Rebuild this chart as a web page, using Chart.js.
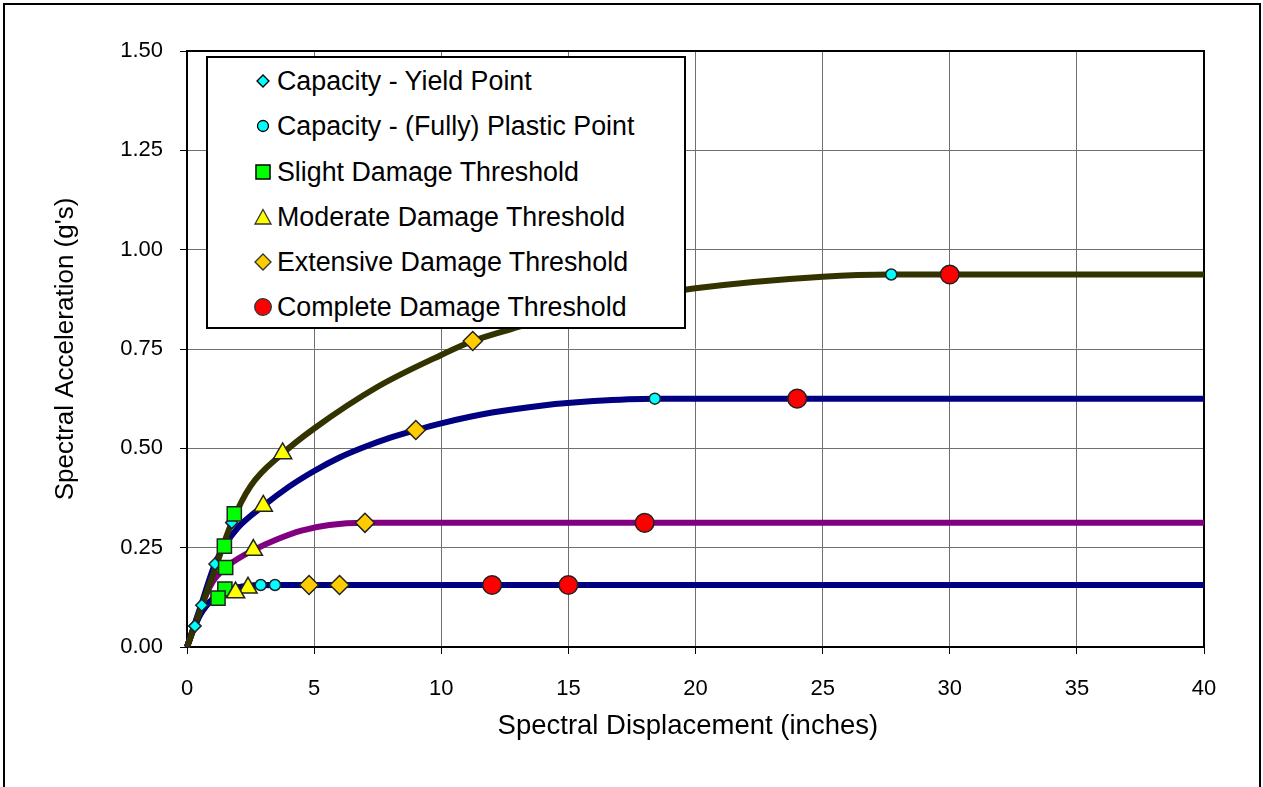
<!DOCTYPE html>
<html>
<head>
<meta charset="utf-8">
<script src="https://cdn.jsdelivr.net/npm/chart.js@4.4.1/dist/chart.umd.min.js"></script>
<style>
  body { margin: 0; background: #fff; overflow: hidden; }
  #wrap { position: relative; width: 1263px; height: 787px; overflow: hidden; }
  #frame { position: absolute; left: 3px; top: 3px; width: 1258px; height: 820px; border: 2px solid #000; box-sizing: border-box; }
  #legend { position: absolute; left: 206px; top: 56px; width: 480px; height: 273px; border: 2px solid #000; background: #fff; box-sizing: border-box; font-family: "Liberation Sans", Arial, sans-serif; font-size: 26.8px; color: #000; }
  .row { position: absolute; left: 0; height: 32px; line-height: 32px; white-space: nowrap; }
  .row svg { position: absolute; left: 45px; top: 6px; }
  .row span { position: absolute; left: 69px; top: 0; }
</style>
</head>
<body>
<div id="wrap">
  <canvas id="chart" width="1263" height="787"></canvas>
  <div id="frame"></div>
  <div id="legend"></div>
</div>
<script>
// capacity curves
const olX = [0, 0.5, 1.0, 1.76, 2.5, 3.76, 5, 7.5, 10, 11.24, 13, 15, 17.5, 20, 25, 27.7, 40];
const olY = [0, 0.089, 0.178, 0.313, 0.405, 0.487, 0.55, 0.655, 0.735, 0.77, 0.805, 0.845, 0.878, 0.903, 0.932, 0.9375, 0.9375];

const nvX = [0, 0.5, 1.1, 1.47, 2.0, 3.0, 4.0, 5, 6, 7, 8, 9, 10, 12, 14, 16, 18.4, 40];
const nvY = [0, 0.095, 0.209, 0.254, 0.30, 0.355, 0.403, 0.443, 0.477, 0.504, 0.527, 0.546, 0.563, 0.590, 0.608, 0.619, 0.625, 0.625];

const puX = [0, 0.58, 1.0, 1.52, 2.0, 2.61, 3.5, 4.5, 5.6, 7.0, 40];
const puY = [0, 0.105, 0.163, 0.20, 0.222, 0.244, 0.27, 0.293, 0.307, 0.3125, 0.3125];

const loAX = [0, 0.31, 0.6, 1.0, 1.49, 2.0, 2.4, 2.9, 40];
const loAY = [0, 0.053, 0.09, 0.12, 0.14, 0.15, 0.154, 0.156, 0.156];

const loBX = [0, 0.31, 0.6, 1.0, 1.5, 2.0, 2.6, 3.46, 40];
const loBY = [0, 0.053, 0.09, 0.12, 0.14, 0.149, 0.154, 0.156, 0.156];

// marker points
const yieldX = [1.76, 1.10, 0.58, 0.31, 0.31];
const yieldY = [0.313, 0.209, 0.105, 0.053, 0.053];
const plasticX = [27.7, 18.4, 7.0, 2.9, 3.46];
const plasticY = [0.9375, 0.625, 0.3125, 0.156, 0.156];
const slightX = [1.86, 1.47, 1.52, 1.49, 1.22];
const slightY = [0.335, 0.254, 0.20, 0.146, 0.123];
const moderateX = [3.76, 3.0, 2.61, 2.4, 1.91];
const moderateY = [0.487, 0.355, 0.244, 0.149, 0.137];
const extensiveX = [11.24, 9.0, 7.0, 6.0, 4.8];
const extensiveY = [0.77, 0.546, 0.3125, 0.156, 0.156];
const completeX = [30, 24, 18, 15, 12];
const completeY = [0.9375, 0.625, 0.3125, 0.156, 0.156];

const xTicks = [0, 5, 10, 15, 20, 25, 30, 35, 40];
const yTicks = [0, 0.25, 0.5, 0.75, 1.0, 1.25, 1.5];

const legendNames = [
    "Capacity - Yield Point",
    "Capacity - (Fully) Plastic Point",
    "Slight Damage Threshold",
    "Moderate Damage Threshold",
    "Extensive Damage Threshold",
    "Complete Damage Threshold"
];

const pts = (xs, ys) => xs.map((x, i) => ({ x: x, y: ys[i] }));

function curve(xs, ys, color) {
    return {
        type: "line",
        data: pts(xs, ys),
        borderColor: color,
        borderWidth: 6,
        pointRadius: 0,
        cubicInterpolationMode: "monotone",
        borderCapStyle: "butt",
        showLine: true,
        clip: false,
        order: 10
    };
}

function marks(xs, ys, style, radius, fill, order) {
    return {
        type: "scatter",
        data: pts(xs, ys),
        pointStyle: style,
        pointRadius: radius,
        pointHoverRadius: radius,
        backgroundColor: fill,
        borderColor: "#222",
        pointBorderWidth: 1.5,
        showLine: false,
        clip: false,
        order: order
    };
}

const font = { family: "'Liberation Sans', Arial, sans-serif", size: 22 };

const plotFrame = {
    id: "plotFrame",
    beforeDatasetsDraw(chart) {
        const a = chart.chartArea;
        const ctx = chart.ctx;
        ctx.save();
        ctx.strokeStyle = "#000";
        ctx.lineWidth = 2;
        ctx.strokeRect(a.left, a.top, a.right - a.left, a.bottom - a.top);
        ctx.restore();
    }
};

new Chart("chart", {
    type: "scatter",
    data: {
        datasets: [
            marks(yieldX, yieldY, "rectRot", 6, "#00FFFF", 6),
            marks(plasticX, plasticY, "circle", 5.5, "#00FFFF", 5),
            marks(slightX, slightY, "rect", 10, "#00FF00", 4),
            marks(moderateX, moderateY, "triangle", 10.5, "#FFFF00", 3),
            marks(extensiveX, extensiveY, "rectRot", 9.5, "#FFCC00", 2),
            marks(completeX, completeY, "circle", 9.3, "#FF0000", 1),
            curve(olX, olY, "#333300"),
            curve(nvX, nvY, "#000080"),
            curve(puX, puY, "#800080"),
            curve(loAX, loAY, "#000080"),
            curve(loBX, loBY, "#000080")
        ]
    },
    options: {
        responsive: false,
        animation: false,
        layout: { padding: { left: 0, top: 51, right: 59, bottom: 0 } },
        plugins: { legend: { display: false }, tooltip: { enabled: false } },
        scales: {
            x: {
                type: "linear",
                min: 0,
                max: 40,
                afterBuildTicks: s => { s.ticks = xTicks.map(v => ({ value: v })); },
                ticks: { font: font, color: "#000", padding: 22, maxRotation: 0 },
                grid: { color: "#707070", tickColor: "#000", tickLength: 7 },
                border: { color: "#000", width: 2 },
                // two trailing spaces nudge the centred title a little to the left, as in the original
                title: { display: true, text: "Spectral Displacement (inches)  ", font: { family: font.family, size: 27.5 }, color: "#000", padding: { top: 0, bottom: 44 } },
                afterFit: s => { s.height = 140; s.paddingLeft = 0; s.paddingRight = 0; }
            },
            y: {
                type: "linear",
                min: 0,
                max: 1.5,
                afterBuildTicks: s => { s.ticks = yTicks.map(v => ({ value: v })); },
                ticks: { font: font, color: "#000", padding: 17, callback: v => v.toFixed(2) },
                grid: { color: "#707070", tickColor: "#000", tickLength: 7 },
                border: { color: "#000", width: 2 },
                title: { display: true, text: "Spectral Acceleration (g's)", font: { family: font.family, size: 26 }, color: "#000", padding: { top: 50, bottom: 0 } },
                afterFit: s => { s.width = 187; s.paddingTop = 0; s.paddingBottom = 0; }
            }
        }
    },
    plugins: [plotFrame]
});

// legend drawn as html over the plot
const icons = [
    '<polygon points="10,4 16,10 10,16 4,10" fill="#00FFFF" stroke="#000" stroke-width="1.3"/>',
    '<circle cx="10" cy="10" r="5.5" fill="#00FFFF" stroke="#000" stroke-width="1.3"/>',
    '<rect x="3" y="3" width="14" height="14" fill="#00FF00" stroke="#000" stroke-width="1.5"/>',
    '<polygon points="10,2.5 18,17 2,17" fill="#FFFF00" stroke="#333" stroke-width="1.3"/>',
    '<polygon points="10,2 18,10 10,18 2,10" fill="#FFCC00" stroke="#333" stroke-width="1.3"/>',
    '<circle cx="10" cy="10" r="8.3" fill="#FF0000" stroke="#333" stroke-width="1.3"/>'
];
const rowCenters = [80.7, 126, 171.5, 216.5, 261.7, 307.3];

const legend = document.getElementById("legend");
legendNames.forEach((name, i) => {
    const row = document.createElement("div");
    row.className = "row";
    row.style.top = (rowCenters[i] - 16 - 58) + "px";
    row.innerHTML = '<svg width="20" height="20" viewBox="0 0 20 20">' + icons[i] + '</svg><span>' + name + '</span>';
    legend.appendChild(row);
});
</script>
</body>
</html>
